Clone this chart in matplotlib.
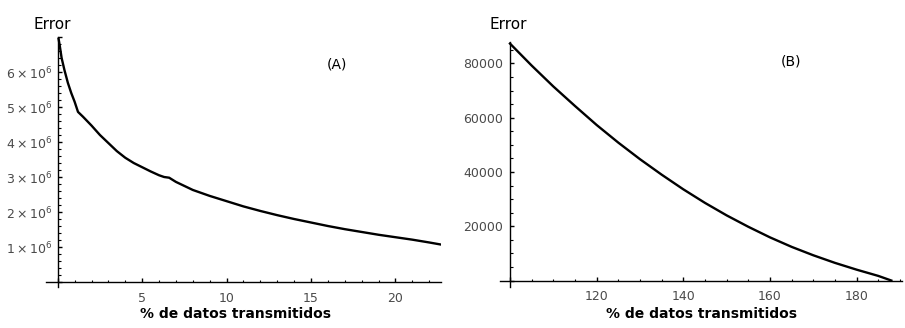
import numpy as np
import matplotlib.pyplot as plt
import matplotlib as mpl

# panel A: error vs % of transmitted data
pct_a = [0.05, 0.12, 0.23, 0.4, 0.6, 0.8, 1.0, 1.2, 1.5, 2.0, 2.5, 3.0, 3.5, 4.0,
         4.5, 5.0, 5.5, 6.0, 6.3, 6.6, 7.0, 8.0, 9.0, 10.0, 11.0, 12.0, 13.0,
         14.0, 15.0, 16.0, 17.0, 18.0, 19.0, 20.0, 21.0, 22.0, 22.7]
err_a = [6.95, 6.75, 6.40, 6.05, 5.69, 5.40, 5.15, 4.86, 4.72, 4.47, 4.20, 3.97,
         3.74, 3.55, 3.40, 3.28, 3.16, 3.05, 3.00, 2.98, 2.86, 2.63, 2.46, 2.31,
         2.16, 2.03, 1.91, 1.80, 1.70, 1.60, 1.51, 1.43, 1.35, 1.28, 1.21, 1.13,
         1.07]
err_a = np.array(err_a) * 1e6

# panel B
pct_b = [100, 105, 110, 115, 120, 125, 130, 135, 140, 145, 150, 155, 160, 165,
         170, 175, 180, 185, 188]
err_b = [87300, 79200, 71500, 64300, 57300, 50800, 44700, 39000, 33600, 28600,
         24000, 19800, 15900, 12400, 9300, 6500, 4000, 1700, 0]

plt.rcParams['font.family'] = 'DejaVu Sans'
plt.rcParams['mathtext.default'] = 'regular'

fig = plt.figure(figsize=(9.05, 3.28), dpi=100)
fig.patch.set_facecolor('white')

tick_col = '#4a4a4a'


def ax_format(ax, x0, y0, xmaj, xmin, ymaj, ymin, ypad):
    for s in ['top', 'right']:
        ax.spines[s].set_visible(False)
    ax.spines['left'].set_position(('data', x0))
    ax.spines['bottom'].set_position(('data', y0))
    for s in ['left', 'bottom']:
        ax.spines[s].set_linewidth(1.0)
    ax.xaxis.set_major_locator(mpl.ticker.MultipleLocator(xmaj))
    ax.xaxis.set_minor_locator(mpl.ticker.MultipleLocator(xmin))
    ax.yaxis.set_major_locator(mpl.ticker.MultipleLocator(ymaj))
    ax.yaxis.set_minor_locator(mpl.ticker.MultipleLocator(ymin))
    ax.tick_params(which='major', direction='in', length=3, width=1,
                   labelsize=9, labelcolor=tick_col)
    ax.tick_params(which='minor', direction='in', length=1.8, width=0.8)
    ax.tick_params(axis='x', which='major', pad=7)
    ax.tick_params(axis='y', which='major', pad=ypad)


ax1 = fig.add_axes([0.0513, 0.1242, 0.436, 0.763])
ax1.plot(pct_a, err_a, color='black', lw=1.7)
ax1.set_xlim(-0.67, 22.7)
ax1.set_ylim(-0.15e6, 7e6)
ax_format(ax1, 0, 0, 5, 1, 1e6, 0.2e6, 4)
ax1.xaxis.set_major_formatter(mpl.ticker.FuncFormatter(
    lambda v, p: '' if abs(v) < 1e-9 else '%d' % v))
ax1.yaxis.set_major_formatter(mpl.ticker.FuncFormatter(
    lambda v, p: '' if v < 0.5e6 or v > 6.5e6
    else r'$%d\times10^{6}$' % round(v / 1e6)))

ax2 = fig.add_axes([0.5525, 0.1265, 0.4439, 0.7465])
ax2.plot(pct_b, err_b, color='black', lw=1.7)
ax2.set_xlim(97.7, 190.4)
ax2.set_ylim(-2200, 88000)
ax_format(ax2, 100, 0, 20, 5, 20000, 5000, 5)
ax2.xaxis.set_major_formatter(mpl.ticker.FuncFormatter(
    lambda v, p: '' if v < 110 else '%d' % v))
ax2.yaxis.set_major_formatter(mpl.ticker.FuncFormatter(
    lambda v, p: '' if v < 10000 else '%d' % v))

# labels
fig.text(0.0578, 0.924, 'Error', ha='center', va='center', fontsize=11)
fig.text(0.5617, 0.924, 'Error', ha='center', va='center', fontsize=11)
fig.text(0.372, 0.802, '(A)', ha='center', va='center', fontsize=10)
fig.text(0.8737, 0.812, '(B)', ha='center', va='center', fontsize=10)
fig.text(0.2597, 0.0427, '% de datos transmitidos', ha='center', va='center',
         fontsize=10, fontweight='bold')
fig.text(0.7753, 0.0427, '% de datos transmitidos', ha='center', va='center',
         fontsize=10, fontweight='bold')

plt.savefig('out.png', dpi=100)
